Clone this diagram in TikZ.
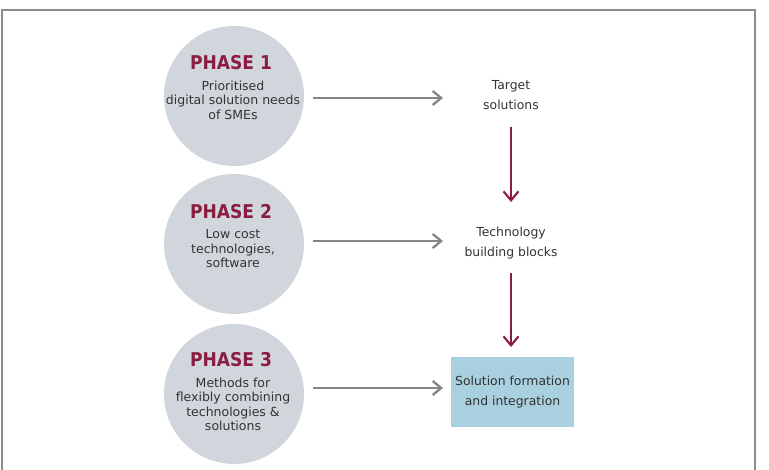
\documentclass[tikz,border=0pt]{standalone}
\usepackage{fontspec}
\setmainfont{DejaVu Sans}
\newfontfamily\titlefont[FakeStretch=0.9]{DejaVu Sans}
\usetikzlibrary{arrows.meta}
\definecolor{phasered}{HTML}{8A1D40}
\definecolor{circlegray}{HTML}{D1D6DD}
\definecolor{boxblue}{HTML}{A9D0DF}
\definecolor{framegray}{HTML}{8C8C8C}
\definecolor{arrowgray}{HTML}{858585}
\definecolor{txt}{HTML}{333333}
\begin{document}
\begin{tikzpicture}[x=1pt,y=-1pt,
  phase/.style={circle,fill=circlegray,minimum size=140pt,inner sep=0pt},
  ptitle/.style={text=phasered,font=\titlefont\fontsize{19}{19}\selectfont\bfseries},
  ptext/.style={text=txt,align=center,font=\fontsize{12.5}{14.5}\selectfont},
  grayarrow/.style={draw=arrowgray,line width=2.6pt,-{Straight Barb[length=8.5pt,width=14pt,line width=2.3pt]}},
  redarrow/.style={draw=phasered,line width=2.2pt,-{Straight Barb[length=9pt,width=15pt,line width=2.1pt]}},
  target/.style={text=txt,align=center,font=\fontsize{12.4}{19.5}\selectfont},
  bluebox/.style={fill=boxblue,minimum width=123pt,minimum height=70pt,inner sep=0pt,text=txt,align=center,font=\fontsize{12.4}{19.5}\selectfont}]
\useasboundingbox (0,0) rectangle (769,470);
\draw[framegray,line width=2pt] (2,480) -- (2,10) -- (755,10) -- (755,480);
% circles
\node[phase] (c1) at (234,96) {};
\node[phase] (c2) at (234,244) {};
\node[phase] (c3) at (234,394) {};
\node[ptitle] (t1) at (231,63) {PHASE 1};
\node[ptext,anchor=north] (d1) at (233,77) {Prioritised\\digital solution needs\\of SMEs};
\node[ptitle] (t2) at (231,212) {PHASE 2};
\node[ptext,anchor=north] (d2) at (233,226) {Low cost\\technologies,\\software};
\node[ptitle] (t3) at (231,360) {PHASE 3};
\node[ptext,anchor=north] (d3) at (233,374) {Methods for\\flexibly combining\\technologies \&\\solutions};
% right column
\node[target] (r1) at (511,95) {Target\\solutions};
\node[target] (r2) at (511,243) {Technology\\building blocks};
\node[bluebox] (r3) at (512.5,392) {Solution formation\\and integration};
% arrow anchors
\coordinate (a1s) at (313,98);
\coordinate (a1e) at (443,98);
\coordinate (a2s) at (313,241);
\coordinate (a2e) at (443,241);
\coordinate (a3s) at (313,388);
\coordinate (a3e) at (443,388);
\coordinate (b1s) at (511,127);
\coordinate (b1e) at (511,202);
\coordinate (b2s) at (511,273);
\coordinate (b2e) at (511,347);
\draw[grayarrow] (a1s) -- (a1e);
\draw[grayarrow] (a2s) -- (a2e);
\draw[grayarrow] (a3s) -- (a3e);
\draw[redarrow] (b1s) -- (b1e);
\draw[redarrow] (b2s) -- (b2e);
\end{tikzpicture}
\end{document}
